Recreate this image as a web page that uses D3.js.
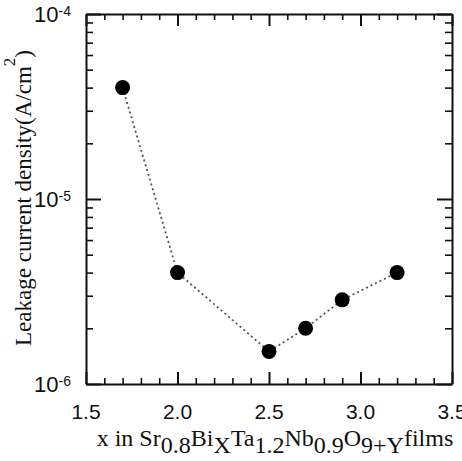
<!DOCTYPE html>
<meta charset="utf-8">
<body style="margin:0;background:#fff;overflow:hidden">
<script src="https://d3js.org/d3.v7.min.js"></script>
<div id="chart"></div>
<script>

// data
var xValues = [1.7, 2.0, 2.5, 2.7, 2.9, 3.2];
var leakage = [4.0e-5, 4.0e-6, 1.5e-6, 2.0e-6, 2.85e-6, 4.0e-6];
var xMajorTicks = [1.5, 2.0, 2.5, 3.0, 3.5];
var yExponents = [-4, -5, -6];

var margin = {top: 14, right: 10, bottom: 77, left: 86},
    width = 462 - margin.left - margin.right,
    height = 461 - margin.top - margin.bottom;

var svg = d3.select("#chart")
  .append("svg")
    .style("display", "block")
    .attr("width", 462)
    .attr("height", 461)
  .append("g")
    .attr("transform", "translate(" + margin.left + "," + margin.top + ")");

var x = d3.scaleLinear().domain([1.5, 3.5]).range([0, width]);
var y = d3.scaleLog().domain([1e-6, 1e-4]).range([height, 0]);

// minor tick positions
var xMinor = d3.range(15, 36).map(function(d) { return d / 10; })
  .filter(function(d) { return xMajorTicks.indexOf(d) < 0; });
var yMinor = [];
[-6, -5].forEach(function(e) {
  for (var k = 2; k <= 9; k++) yMinor.push(k * Math.pow(10, e));
});
var yMajor = yExponents.map(function(e) { return Math.pow(10, e); });

// the four axes; the major axes keep their domain line, which makes the frame
var sides = [
  [d3.axisBottom(x), xMajorTicks, xMinor, "translate(0," + height + ")", -12, -6],
  [d3.axisTop(x), xMajorTicks, xMinor, null, -12, -6],
  [d3.axisLeft(y), yMajor, yMinor, null, -15, -7],
  [d3.axisRight(y), yMajor, yMinor, "translate(" + width + ",0)", -15, -7]
];
sides.forEach(function(s, i) {
  var major = svg.append("g")
    .attr("transform", s[3])
    .call(s[0].tickValues(s[1]).tickSizeInner(s[4]).tickSizeOuter(0).tickFormat(""));
  major.select(".domain").attr("stroke", "#111").attr("stroke-width", 2);
  major.selectAll(".tick line").attr("stroke", "#111").attr("stroke-width", 2);

  var minor = svg.append("g")
    .attr("transform", s[3])
    .call(s[0].tickValues(s[2]).tickSizeInner(s[5]).tickSizeOuter(0).tickFormat(""));
  minor.select(".domain").remove();
  minor.selectAll(".tick line").attr("stroke", "#111").attr("stroke-width", 1.6);
});

// x tick labels
svg.append("g").selectAll("text")
  .data(xMajorTicks)
  .join("text")
    .attr("x", function(d) { return x(d); })
    .attr("y", height + 20)
    .attr("dy", "0.71em")
    .attr("text-anchor", "middle")
    .style("font-family", "Liberation Sans, Arial, sans-serif")
    .style("font-size", "21px")
    .attr("fill", "#111")
    .text(d3.format(".1f"));

// y tick labels with superscript exponent
var ylab = svg.selectAll(".ylab")
  .data(yExponents)
  .join("text")
    .attr("class", "ylab")
    .attr("x", -52)
    .attr("y", function(d) { return y(Math.pow(10, d)); })
    .attr("dy", "0.36em")
    .style("font-family", "Liberation Sans, Arial, sans-serif")
    .style("font-size", "22px")
    .attr("fill", "#111");
ylab.append("tspan").text("10");
ylab.append("tspan")
  .attr("dy", "-0.45em")
  .style("font-size", "14px")
  .text(function(d) { return "-" + Math.abs(d); });

// dotted connecting line
var pts = xValues.map(function(d, i) { return [d, leakage[i]]; });
svg.append("path")
  .datum(pts)
  .attr("d", d3.line()
    .x(function(d) { return x(d[0]); })
    .y(function(d) { return y(d[1]); }))
  .style("fill", "none")
  .style("stroke", "#555")
  .style("stroke-width", 1.8)
  .style("stroke-dasharray", "2,3");

svg.selectAll(".dot")
  .data(pts)
  .join("circle")
    .attr("class", "dot")
    .attr("cx", function(d) { return x(d[0]); })
    .attr("cy", function(d) { return y(d[1]); })
    .attr("r", 7.5)
    .style("fill", "#000");

// x axis title, subscripts lowered at full size
var serif = "Liberation Serif, Times New Roman, serif";
var xt = svg.append("text")
  .attr("x", width / 2 + 6)
  .attr("y", height + 62)
  .attr("text-anchor", "middle")
  .style("font-family", serif)
  .style("font-size", "24px")
  .attr("fill", "#111");
var parts = [["x in Sr", 0], ["0.8", 1], ["Bi", 0], ["X", 1], ["Ta", 0], ["1.2", 1],
             ["Nb", 0], ["0.9", 1], ["O", 0], ["9+Y", 1], ["films", 0]];
var prev = 0;
parts.forEach(function(p) {
  var shift = p[1] ? 7 : 0;
  xt.append("tspan")
    .attr("dy", shift - prev)
    .text(p[0]);
  prev = shift;
});

// y axis title
var yt = svg.append("text")
  .attr("transform", "translate(-55," + 184 + ") rotate(-90)")
  .attr("text-anchor", "middle")
  .style("font-family", serif)
  .style("font-size", "23px")
  .attr("fill", "#111");
yt.append("tspan").text("Leakage current density(A/cm");
yt.append("tspan").attr("dy", -16).style("font-size", "17px").text("2");
yt.append("tspan").attr("dy", 16).text(")");

</script>
</body>
